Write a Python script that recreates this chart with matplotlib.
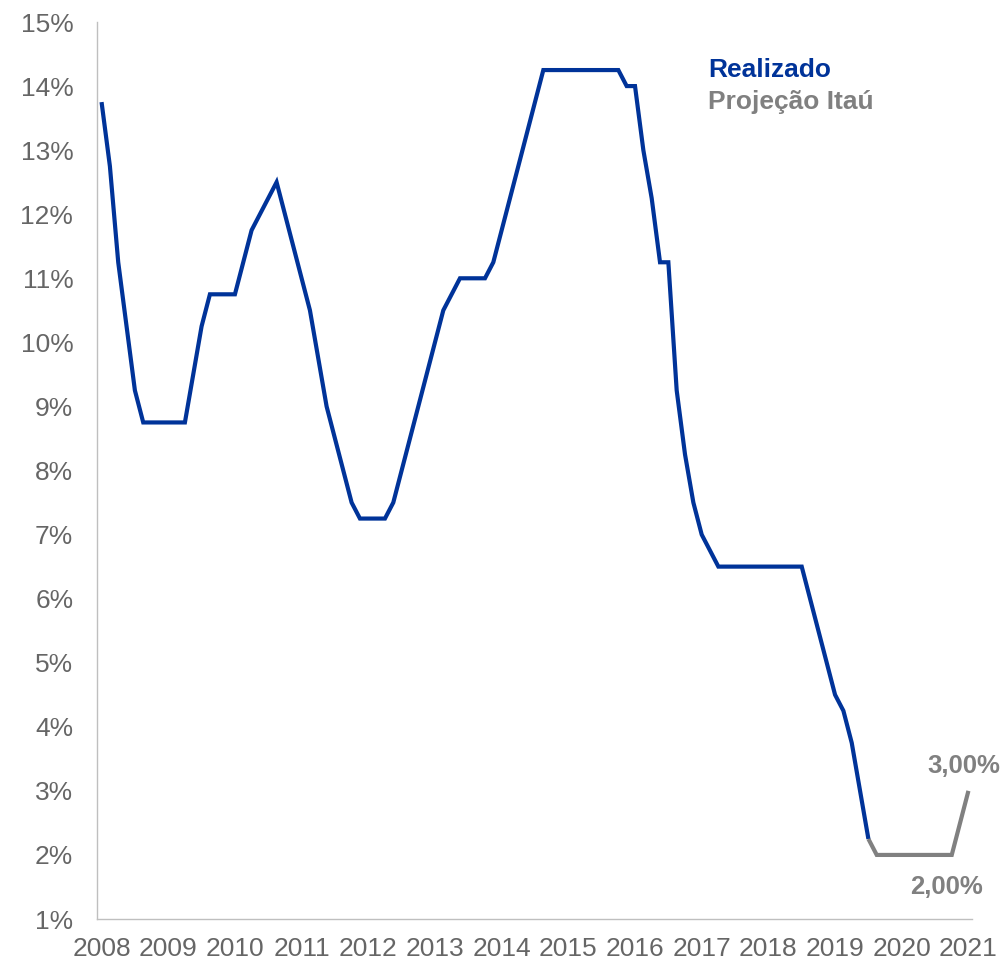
import matplotlib
matplotlib.use("Agg")
import matplotlib.pyplot as plt
import numpy as np

# Selic rate by COPOM meeting (% a.a.)
realizado = [
    13.75, 12.75, 11.25, 10.25, 9.25, 8.75, 8.75, 8.75, 8.75, 8.75, 8.75,
    9.50, 10.25, 10.75, 10.75, 10.75, 10.75, 11.25, 11.75, 12.00, 12.25, 12.50,
    12.00, 11.50, 11.00, 10.50, 9.75, 9.00, 8.50, 8.00, 7.50,
    7.25, 7.25, 7.25, 7.25, 7.50, 8.00, 8.50, 9.00, 9.50, 10.00, 10.50, 10.75,
    11.00, 11.00, 11.00, 11.00, 11.25, 11.75, 12.25, 12.75, 13.25, 13.75,
    14.25, 14.25, 14.25, 14.25, 14.25, 14.25, 14.25, 14.25, 14.25, 14.25,
    14.00, 14.00, 13.00, 12.25, 11.25, 11.25, 9.25, 8.25, 7.50, 7.00, 6.75,
    6.50, 6.50, 6.50, 6.50, 6.50, 6.50, 6.50, 6.50, 6.50, 6.50, 6.50,
    6.00, 5.50, 5.00, 4.50, 4.25, 3.75, 3.00, 2.25,
]
projecao = [2.25, 2.00, 2.00, 2.00, 2.00, 2.00, 2.00, 2.00, 2.00, 2.00, 2.00,
            2.50, 3.00]
anos = ["2008", "2009", "2010", "2011", "2012", "2013", "2014",
        "2015", "2016", "2017", "2018", "2019", "2020", "2021"]
reunioes_por_ano = 8

azul = "#003399"
cinza = "#808080"
texto = "#666666"

plt.rcParams["font.family"] = ["Liberation Sans", "DejaVu Sans"]

fig = plt.figure(figsize=(10.07, 9.61), dpi=100)
ax = fig.add_axes([0.0963, 0.0437, 0.8687, 0.9334])

x_real = np.arange(len(realizado))
x_proj = np.arange(len(realizado) - 1, len(realizado) - 1 + len(projecao))

ax.plot(x_proj, projecao, color=cinza, lw=3.0, solid_joinstyle="miter",
        solid_capstyle="butt")
ax.plot(x_real, realizado, color=azul, lw=3.0, solid_joinstyle="miter",
        solid_capstyle="butt")

ax.set_xlim(-0.55, 104.4)
ax.set_ylim(1, 15)
ax.set_yticks(range(1, 16))
ax.set_yticklabels([f"{v}%" for v in range(1, 16)])
ax.set_xticks(np.arange(len(anos)) * reunioes_por_ano)
ax.set_xticklabels(anos)

for s in ("top", "right"):
    ax.spines[s].set_visible(False)
for s in ("left", "bottom"):
    ax.spines[s].set_color("#BFBFBF")
    ax.spines[s].set_linewidth(1.0)

ax.tick_params(axis="both", length=0, labelsize=19, labelcolor=texto)
ax.tick_params(axis="y", pad=17)
ax.tick_params(axis="x", pad=13)

# Legend as coloured text
ax.text(0.699, 0.946, "Realizado", transform=ax.transAxes, color=azul,
        fontsize=19, fontweight="bold", va="center", ha="left")
ax.text(0.699, 0.911, "Projeção Itaú", transform=ax.transAxes, color=cinza,
        fontsize=19, fontweight="bold", va="center", ha="left")

# Value labels on the projection
ax.annotate(f"{projecao[-1]:.2f}%".replace(".", ","),
            xy=(x_proj[-1], projecao[-1]), xytext=(-3, 18),
            textcoords="offset points", ha="center", va="center",
            fontsize=18.5, fontweight="bold", color=cinza)
ax.annotate(f"{projecao[-3]:.2f}%".replace(".", ","),
            xy=(x_proj[-3], projecao[-3]), xytext=(-4, -23),
            textcoords="offset points", ha="center", va="center",
            fontsize=18.5, fontweight="bold", color=cinza)

fig.savefig("out.png", dpi=100)
